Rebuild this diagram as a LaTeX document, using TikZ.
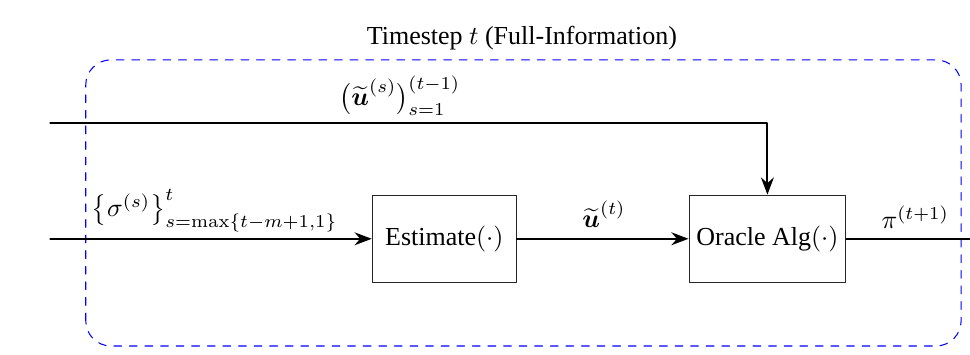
\documentclass[tikz,border=0pt]{standalone}
\usepackage{amsmath}
\usepackage[no-math]{fontspec}
\setmainfont{Liberation Serif}
\usetikzlibrary{arrows.meta,positioning}
\begin{document}
\begin{tikzpicture}[>=Stealth, font=\normalsize, line join=round, line cap=round]
    \def\W{13.12} \def\H{4.80} % Khung
    \def\ymain{1.57} \def\ytop{3.14}
    \tikzset{blk/.style={draw=black!85, minimum width=#1, minimum height=1.18cm, inner sep=2pt},
             flow/.style={->, thick}}
    \useasboundingbox (0,0) rectangle (\W,\H);
    % khung nét đứt
    \draw[blue, dashed, rounded corners=0.34cm] (1.16,0.12) rectangle (13.0,3.99);
    \node (title) at (7.06,4.29) {Timestep $t$ (Full-Information)};
    % các khối
    \node[blk=1.95cm] (est) at (6.01,\ymain) {Estimate$(\cdot)$};
    \node[blk=2.12cm] (orc) at (10.38,\ymain) {Oracle Alg$(\cdot)$};
    \coordinate (in) at (0.68,\ymain);
    \coordinate (intop) at (0.68,\ytop);
    \coordinate (out) at (\W,\ymain);
    % mũi tên
    \draw[flow] (in) -- (est);
    \draw[flow] (est) -- (orc);
    \draw[thick] (orc) -- (out);
    \draw[flow] (intop) -| (orc.north);
    % nhãn
    \node (lu) at (5.41,3.50) {$\big(\widetilde{\boldsymbol{u}}^{(s)}\big)_{s=1}^{(t-1)}$};
    \node[anchor=west] (lsig) at (1.12,1.95) {$\big\{\sigma^{(s)}\big\}_{s=\max\{t-m+1,1\}}^{t}$};
    \node (lut) at (8.17,1.90) {$\widetilde{\boldsymbol{u}}^{(t)}$};
    \node (lpi) at (12.38,1.86) {$\pi^{(t+1)}$};
\end{tikzpicture}
\end{document}
